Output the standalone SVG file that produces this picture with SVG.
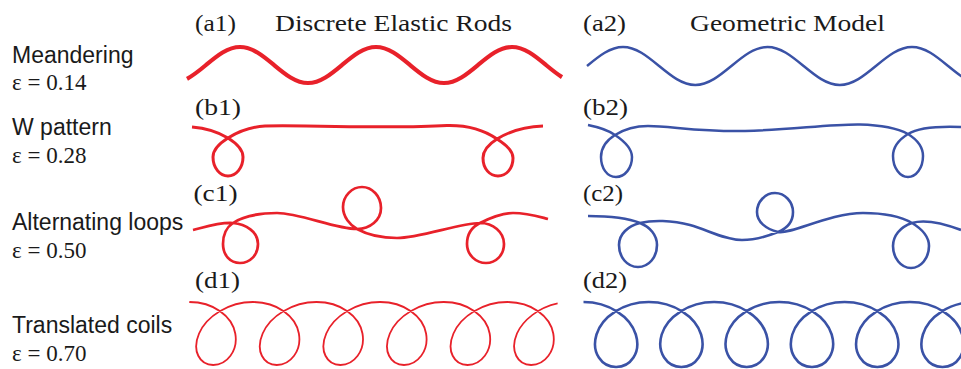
<svg xmlns="http://www.w3.org/2000/svg" width="961" height="369" viewBox="0 0 961 369">
<style>
.lab{font-family:"Liberation Sans",Arial,sans-serif;font-size:23px;fill:#1a1a1a}
.eps{font-family:"Liberation Serif","Times New Roman",serif;font-size:23px;fill:#1a1a1a}
.hdr{font-family:"Liberation Serif","Times New Roman",serif;font-size:23.5px;fill:#1a1a1a}
.red{fill:none;stroke:#e8212a;stroke-linejoin:round}
.blue{fill:none;stroke:#3a52a6;stroke-linejoin:round}
</style>
<rect width="961" height="369" fill="#ffffff"/>
<g id="row-labels">
<text class="lab" x="12" y="63">Meandering</text>
<text class="eps" x="12" y="90">ε = 0.14</text>
<text class="lab" x="12" y="135">W pattern</text>
<text class="eps" x="12" y="163">ε = 0.28</text>
<text class="lab" x="12" y="230">Alternating loops</text>
<text class="eps" x="12" y="258">ε = 0.50</text>
<text class="lab" x="12" y="333">Translated coils</text>
<text class="eps" x="12" y="361">ε = 0.70</text>
</g>
<g id="headers">
<text class="hdr" x="195" y="30.7" textLength="41" lengthAdjust="spacingAndGlyphs">(a1)</text>
<text class="hdr" x="275" y="30.7" textLength="237" lengthAdjust="spacingAndGlyphs">Discrete Elastic Rods</text>
<text class="hdr" x="583" y="30.7" textLength="43" lengthAdjust="spacingAndGlyphs">(a2)</text>
<text class="hdr" x="690" y="30.7" textLength="195" lengthAdjust="spacingAndGlyphs">Geometric Model</text>
<text class="hdr" x="195" y="115" textLength="46" lengthAdjust="spacingAndGlyphs">(b1)</text>
<text class="hdr" x="583" y="115" textLength="45" lengthAdjust="spacingAndGlyphs">(b2)</text>
<text class="hdr" x="193.5" y="200.7" textLength="44" lengthAdjust="spacingAndGlyphs">(c1)</text>
<text class="hdr" x="583" y="200.7" textLength="40" lengthAdjust="spacingAndGlyphs">(c2)</text>
<text class="hdr" x="195" y="288" textLength="45" lengthAdjust="spacingAndGlyphs">(d1)</text>
<text class="hdr" x="583" y="287.5" textLength="44" lengthAdjust="spacingAndGlyphs">(d2)</text>
</g>
<g id="curves-discrete-elastic-rods">
<path id="a1" class="red" stroke-width="4.2" d="M187,78.8 C193.3,75.4 199.7,70.3 206,65 C217.1,55.8 227.7,47 240,47 C252.3,47 262.9,55.8 274,65 C285.1,74.2 295.7,83 308,83 C320.3,83 330.9,74.2 342,65 C353.1,55.8 363.7,47 376,47 C388.3,47 398.9,55.8 410,65 C421.1,74.2 431.7,83 444,83 C456.3,83 466.9,74.2 478,65 C489.1,55.8 499.7,47 512,47 C524.3,47 534.9,55.8 546,65 C551.3,69.4 556.7,73.8 562,77.1"/>
<path id="b1" class="red" stroke-width="3" d="M192,127 C205,128 218,132 228,138 C236,143 243,149 243,157 C243,168 236,176 228,176 C220,176 213,168 213,157 C213,149 220,143 228,138 C236,133 248,127 265,126 C320,125 390,129 447,125.5 C470,125 487,132 497,139 C505,144 513,150 513,158 C513,169 506,176 498,176 C490,176 483,169 483,158 C483,150 489,144 497,139 C505,134 520,127 543,126"/>
<path id="c1" class="red" stroke-width="2.7" d="M193,230 C205,227 220,222 233,223 C246,224 258,232 258,244 C258,255 250,263 240,263 C230,263 223,255 223,244 C223,234 227,227 233,223 C240,218.2 255,213 277,213 C300,213 335,229 357,229 C370,229 381,220 381,208 C381,196 372,187 362,187 C352,187 343,196 343,207 C343,217 350,225 357,229 C368,235 383,238 397,238 C420,238 460,223 480,223 C493,223 504,232 504,244 C504,255 496,263 486,263 C476,263 467,255 467,244 C467,234 472,227 480,223 C488,219 500,213 513,213 C528,213 540,217 548,219"/>
<path id="d1" class="red" stroke-width="1.8" transform="translate(37.75,0) skewX(-7.125)" d="M189.3,302 C213.4,302 233.9,316.1 239.2,333.5 C244.5,350.9 234.6,365 221.1,365 C207.6,365 197.7,350.9 203,333.5 C208.3,316.1 228.8,302 252.9,302 C277,302 297.5,316.1 302.8,333.5 C308.1,350.9 298.2,365 284.7,365 C271.2,365 261.3,350.9 266.6,333.5 C271.9,316.1 292.4,302 316.5,302 C340.6,302 361.1,316.1 366.4,333.5 C371.7,350.9 361.8,365 348.3,365 C334.8,365 324.9,350.9 330.2,333.5 C335.5,316.1 356,302 380.1,302 C404.2,302 424.7,316.1 430,333.5 C435.3,350.9 425.3,365 411.9,365 C398.4,365 388.5,350.9 393.8,333.5 C399.1,316.1 419.6,302 443.7,302 C467.7,302 488.3,316.1 493.6,333.5 C498.9,350.9 488.9,365 475.5,365 C462,365 452.1,350.9 457.4,333.5 C462.7,316.1 483.2,302 507.3,302 C531.3,302 551.9,316.1 557.2,333.5 C562.5,350.9 552.5,365 539,365 C525.6,365 515.6,350.9 520.9,333.5 C525.3,320 539.4,307.4 557.8,303.4"/>
</g>
<g id="curves-geometric-model">
<path id="a2" class="blue" stroke-width="2.5" d="M587,66 C598.8,56.3 610,47 623,47 C636.1,47 647.3,56.3 659.1,66 C670.9,75.7 682.2,85 695.3,85 C708.3,85 719.6,75.7 731.4,66 C743.2,56.3 754.4,47 767.5,47 C780.6,47 791.8,56.3 803.6,66 C815.4,75.7 826.7,85 839.8,85 C852.8,85 864.1,75.7 875.9,66 C887.7,56.3 898.9,47 912,47 C925.1,47 936.3,56.3 948.1,66 C959.9,75.7 971.2,85 984.3,85"/>
<path id="b2" class="blue" stroke-width="2.5" d="M588,125 C598,127 608,130 615,135 C624,141 632,148 632,157 C632,168 625,177 616,177 C607,177 601,168 601,157 C601,148 607,140 615,135 C623,130 635,126 648,126 C670,126 700,132 745,131 C790,130 830,124 860,124.5 C880,125 897,128 908,134 C916,139 923,147 923,156 C923,168 916,177 908,177 C900,177 893,168 893,156 C893,147 900,139 908,134 C916,129 935,126 961,127"/>
<path id="c2" class="blue" stroke-width="2.6" d="M588,216 C608,216 628,218 640,223 C650,227 657,235 657,245 C657,257 649,267 638,267 C627,267 619,257 619,245 C619,234 628,226 640,223 C652,220 672,220 690,225 C708,230 725,240 742,240 C757,240 768,236 778,232 C788,228 793,221 793,212 C793,202 785,193 775,193 C765,193 757,202 757,212 C757,222 766,229 778,232 C790,235 830,213 863,213 C885,213 900,216 912,223 C922,229 929,236 929,246 C929,258 921,268 911,268 C901,268 893,258 893,246 C893,236 900,227 912,223 C925,219 945,224 961,230"/>
<path id="d2" class="blue" stroke-width="2.6" d="M583.5,302 C608.8,302 630.4,316.6 635.8,334.5 C641.3,352.5 630.6,367 616.1,367 C601.7,367 591,352.5 596.5,334.5 C601.9,316.6 623.5,302 648.8,302 C674.1,302 695.7,316.6 701.1,334.5 C706.5,352.5 695.9,367 681.4,367 C667,367 656.3,352.5 661.7,334.5 C667.2,316.6 688.7,302 714.1,302 C739.4,302 760.9,316.6 766.4,334.5 C771.8,352.5 761.1,367 746.7,367 C732.3,367 721.6,352.5 727,334.5 C732.5,316.6 754,302 779.3,302 C804.7,302 826.2,316.6 831.7,334.5 C837.1,352.5 826.4,367 812,367 C797.5,367 786.9,352.5 792.3,334.5 C797.7,316.6 819.3,302 844.6,302 C869.9,302 891.5,316.6 896.9,334.5 C902.4,352.5 891.7,367 877.3,367 C862.8,367 852.1,352.5 857.6,334.5 C863,316.6 884.6,302 909.9,302 C935.2,302 956.8,316.6 962.2,334.5 C967.7,352.5 957,367 942.5,367 C928.1,367 917.4,352.5 922.9,334.5 C928.3,316.6 949.9,302 975.2,302"/>
</g>
</svg>
